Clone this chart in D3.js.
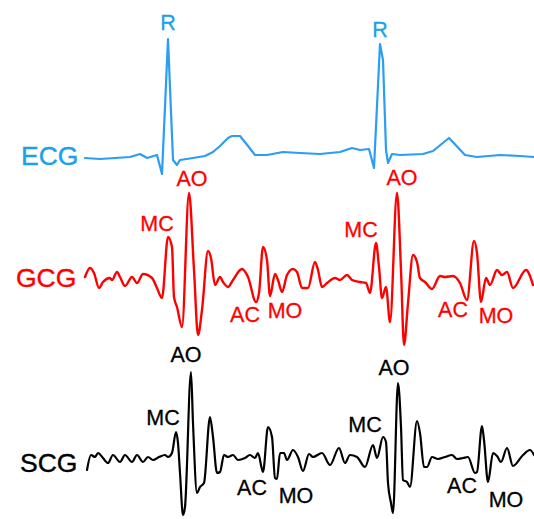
<!DOCTYPE html>
<html>
<head>
<meta charset="utf-8">
<script src="https://cdn.jsdelivr.net/npm/d3@7"></script>
<style>
  body { margin: 0; background: #fff; }
  text { font-family: "Liberation Sans", Arial, sans-serif; }
</style>
</head>
<body>
<script>
w = 534;
h = 519;

// time in ms, amplitude in arbitrary units
ecgT = [0, 75, 150, 225, 275, 310, 360, 385, 415, 440, 460, 475, 540, 600, 640, 675, 715, 735, 775, 815, 850, 910, 990, 1075, 1175, 1275, 1335, 1375, 1420, 1445, 1475, 1490, 1505, 1515, 1535, 1575, 1690, 1740, 1820, 1900, 1960, 2075, 2175, 2245];
ecgV = [-0.01, -0.02, -0.01, 0, 0.03, -0.01, 0.02, -0.17, 1.18, -0.03, -0.08, -0.03, -0.01, 0.01, 0.05, 0.11, 0.19, 0.21, 0.21, 0.11, 0.02, 0.02, 0.05, 0.04, 0.03, 0.05, 0.09, 0.07, 0.08, -0.11, 1.13, 0.97, 0.07, -0.06, 0.03, 0.02, 0.03, 0.06, 0.19, 0.02, 0, 0.02, 0.01, 0];

gcgT = [0, 25, 45, 70, 90, 125, 135, 160, 175, 200, 235, 260, 290, 335, 360, 385, 415, 435, 445, 460, 485, 520, 545, 565, 585, 615, 630, 650, 675, 690, 715, 740, 785, 815, 855, 870, 890, 910, 925, 950, 965, 985, 1010, 1040, 1060, 1085, 1115, 1150, 1165, 1185, 1210, 1250, 1275, 1310, 1335, 1375, 1405, 1425, 1455, 1470, 1485, 1505, 1525, 1560, 1580, 1595, 1615, 1640, 1660, 1675, 1700, 1735, 1775, 1800, 1840, 1875, 1910, 1945, 1960, 1980, 2005, 2025, 2060, 2085, 2110, 2140, 2205, 2240];
gcgV = [0.1, 1.0, 0.5, -1.0, -0.4, 0, -0.2, 0.6, 0.1, -0.8, 0.1, -0.5, 0.4, 0, -1.0, -2.0, 4.1, 3.1, -1.9, -2.9, -4.9, 8.5, 0.8, -5.7, -3.2, 2.7, 2.0, -0.7, 0.1, -0.4, -0.9, -0.2, 0.9, 0.1, -2.4, -1.5, 3.1, 1.8, -1.8, 0.4, -0.2, -1.4, 0.3, 0.9, 0.6, -1.0, -1.0, 1.6, 0.8, -0.9, -0.5, 0, -0.2, 0.3, -0.2, -0.4, -0.5, -1.5, 3.5, 1.1, -2.0, -0.9, -4.4, 8.5, 0.8, -6.7, -2.5, 2.3, 1.6, 0, -0.4, -1.1, 0.2, 0.1, 0.2, -0.5, -2.2, 3.7, 2.5, -2.4, 0, -0.7, 0.8, 0.3, 0.6, -1.0, 0.8, -0.7];

scgT = [10, 30, 50, 65, 90, 115, 140, 175, 200, 235, 260, 290, 315, 340, 370, 400, 415, 435, 455, 465, 475, 490, 500, 530, 540, 560, 575, 595, 625, 640, 660, 675, 695, 715, 740, 765, 800, 825, 850, 865, 890, 915, 935, 950, 960, 975, 995, 1010, 1040, 1065, 1090, 1120, 1140, 1185, 1225, 1270, 1300, 1325, 1360, 1400, 1440, 1460, 1490, 1505, 1515, 1530, 1540, 1565, 1580, 1590, 1610, 1625, 1660, 1675, 1695, 1710, 1735, 1765, 1800, 1835, 1860, 1890, 1915, 1950, 1960, 1985, 1995, 2015, 2040, 2060, 2080, 2110, 2140, 2190, 2225, 2245];
scgV = [-1.3, 0.2, 0, 0.4, -0.1, -0.6, 0.2, -0.5, 0.2, -0.5, 0.2, -0.5, 0, -0.3, 0, 0.2, 0, 0.4, 2.5, 1.4, -1.6, -5.8, -5.0, 8.5, 3.4, -3.6, -3.0, -2.6, 4.0, 2.0, -1.6, -1.5, 0.2, 0, 0.2, -0.3, -0.1, 0.2, -0.1, 0.4, -1.5, 3.0, 2.0, -2.1, -2.2, 0.4, 0.4, -0.3, 0.7, 0, -1.4, 0.3, 0, 0.4, -0.8, 0.9, -0.6, 0.2, 0, -1.0, 1.2, -0.1, 2.0, 1.5, -2.6, -4.6, -5.6, 7.4, 3.0, -2.3, -2.5, -3.0, 3.6, 2.4, -1.0, -1.0, 0, -0.2, 0, 0.2, -0.2, -0.1, 0, -1.6, -1.5, 3.1, 1.7, -2.5, 0.4, 0.1, -0.5, 0.9, -0.9, 0.2, 0.7, 0.2];

// event labels: [text, time, amplitude]
ecgMarks = [['R', 415, 1.27], ['R', 1475, 1.2]];
gcgMarks = [['AO', 535, 9.2], ['MC', 360, 4.7], ['AC', 800, -4.4], ['MO', 1000, -4.0],
            ['MC', 1380, 4.1], ['AO', 1585, 9.3], ['AC', 1840, -3.9], ['MO', 2055, -4.5]];
scgMarks = [['AO', 505, 9.5], ['MC', 390, 3.2], ['AC', 835, -3.8], ['MO', 1055, -4.6],
            ['MC', 1400, 2.5], ['AO', 1545, 8.2], ['AC', 1885, -3.6], ['MO', 2105, -5.0]];

// series names
names = ['ECG', 'GCG', 'SCG'];

let xScale = d3.scaleLinear().domain([0, 2250]).range([85, 535]);

let ecgY = d3.scaleLinear().domain([-0.2, 1.2]).range([177, 37]);
let gcgY = d3.scaleLinear().domain([-8, 10]).range([358, 178]);
let scgY = d3.scaleLinear().domain([-6, 9]).range([517, 367]);

svg = d3.select('body')
  .append('svg')
  .attr('width', w)
  .attr('height', h);

function drawTrace(ts, vs, yScale, color, width, curve) {
  let pts = ts.map((t, i) => [t, vs[i]]);
  let line = d3.line()
    .x(d => xScale(d[0]))
    .y(d => yScale(d[1]))
    .curve(curve);
  svg.append('path')
    .datum(pts)
    .attr('d', line)
    .attr('fill', 'none')
    .attr('stroke', color)
    .attr('stroke-width', width)
    .attr('stroke-linejoin', 'round')
    .attr('stroke-linecap', 'round');
}

function drawMarks(marks, yScale, color) {
  svg.selectAll(null)
    .data(marks)
    .enter()
    .append('text')
    .text(d => d[0])
    .attr('x', d => xScale(d[1]))
    .attr('y', d => yScale(d[2]))
    .attr('text-anchor', 'middle')
    .attr('font-size', '21.5px')
    .attr('fill', color)
    .attr('stroke', color)
    .attr('stroke-width', 0.3);
}

drawTrace(ecgT, ecgV, ecgY, '#2a9df4', 2.2, d3.curveLinear);
drawTrace(gcgT, gcgV, gcgY, '#ff0000', 2.4, d3.curveMonotoneX);
drawTrace(scgT, scgV, scgY, '#000', 2.2, d3.curveMonotoneX);

drawMarks(ecgMarks, ecgY, '#1ba1e8');
drawMarks(gcgMarks, gcgY, '#ff0000');
drawMarks(scgMarks, scgY, '#000');

// series names, left of each trace
let nameSpots = [[21, 165, '#1ba1e8'], [16, 287, '#ff0000'], [20, 472, '#000']];
svg.selectAll('.name')
  .data(names)
  .enter()
  .append('text')
  .classed('name', true)
  .text(d => d)
  .attr('x', (d, i) => nameSpots[i][0])
  .attr('y', (d, i) => nameSpots[i][1])
  .attr('font-size', '26.5px')
  .attr('fill', (d, i) => nameSpots[i][2])
  .attr('stroke', (d, i) => nameSpots[i][2])
  .attr('stroke-width', 0.4);
</script>
</body>
</html>
